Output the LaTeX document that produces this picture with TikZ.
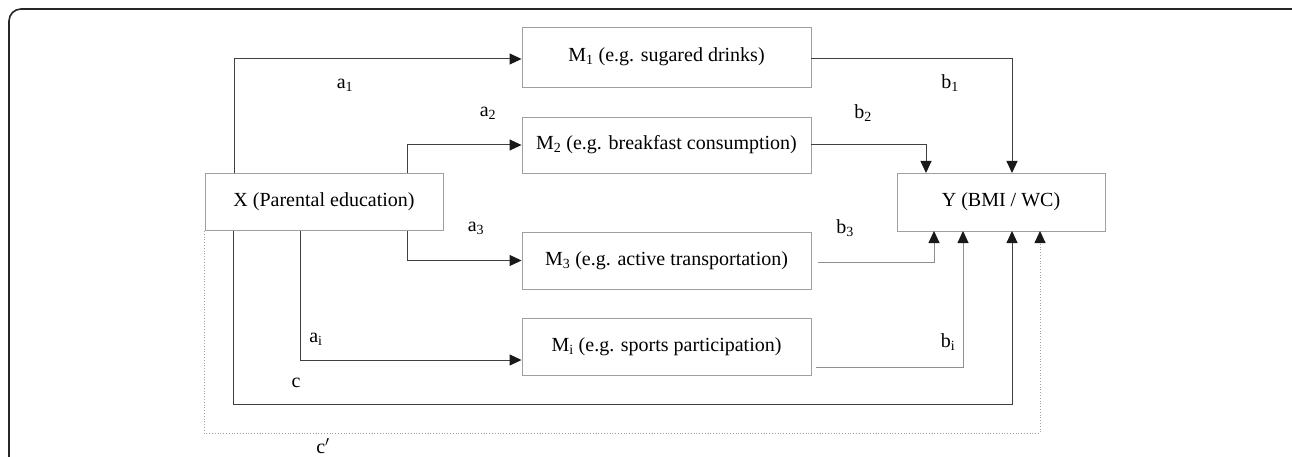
\documentclass[tikz,border=0pt]{standalone}
\usepackage{fontspec}
\setmainfont{Liberation Serif}
\usetikzlibrary{arrows.meta}
\definecolor{boxgray}{HTML}{A0A0A0}
\definecolor{linedark}{HTML}{404040}
\definecolor{linelight}{HTML}{909090}
\tikzset{
  var/.style={draw=boxgray, line width=0.9pt, fill=white, minimum height=57pt, inner sep=0pt, font=\fontsize{20}{24}\selectfont},
  tip/.style={-{Triangle[length=12pt,width=11pt,color=black!90]}},
  conn/.style={draw=linedark, line width=1pt, tip},
  connl/.style={draw=linelight, line width=1pt, tip},
  connd/.style={draw=boxgray, line width=0.8pt, dotted, tip},
  lab/.style={font=\fontsize{20}{24}\selectfont, inner sep=0pt},
}
\begin{document}
\begin{tikzpicture}[x=1pt,y=-1pt]
\useasboundingbox (0,0) rectangle (1292,457);
\begin{scope}
\clip (0,0) rectangle (1292,457);
\draw[line width=1.6pt, draw=black!85, rounded corners=12pt] (9,9) rectangle (1305,480);
\end{scope}
% nodes
\node[var, minimum width=238pt] (X) at (324,202) {X (Parental education)};
\node[var, minimum width=289pt, minimum height=60pt] (M1) at (666.5,57) {M\textsubscript{1} (e.g. sugared drinks)};
\node[var, minimum width=289pt, minimum height=56pt] (M2) at (666.5,145) {M\textsubscript{2} (e.g. breakfast consumption)};
\node[var, minimum width=289pt, minimum height=57pt] (M3) at (666.5,260.5) {M\textsubscript{3} (e.g. active transportation)};
\node[var, minimum width=289pt, minimum height=57pt] (Mi) at (666.5,346.5) {M\textsubscript{i} (e.g. sports participation)};
\node[var, minimum width=208pt, minimum height=58pt] (Y) at (1001,202) {Y (BMI / WC)};
% coordinates
\coordinate (xa1) at (234,173);
\coordinate (xa2) at (407,173);
\coordinate (xa3) at (407,231);
\coordinate (xai) at (300,231);
\coordinate (xc) at (233,231);
\coordinate (xcp) at (204,231);
\coordinate (ya1) at (1012,173);
\coordinate (ya2) at (926,173);
\coordinate (yb3) at (934,231);
\coordinate (ybi) at (963,231);
\coordinate (yc) at (1012,231);
\coordinate (ycp) at (1040,231);
\coordinate (m3r) at (818,262);
\coordinate (mir) at (816,367);
% a paths
\draw[conn] (xa1) |- (M1.west |- 0,59);
\draw[conn] (xa2) |- (M2.west);
\draw[conn] (xa3) |- (M3.west);
\draw[conn] (xai) |- (Mi.west |- 0,360);
% b paths
\draw[conn] (M1.east |- 0,59) -| (ya1);
\draw[conn] (M2.east) -| (ya2);
\draw[connl] (m3r) -| (yb3);
\draw[connl] (mir) -| (ybi);
% c and c'
\draw[conn] (xc) |- (1012,404) -- (yc);
\draw[connd] (xcp) |- (1040,433) -- (ycp);
% labels
\node[lab] (la1) at (345,85) {a\textsubscript{1}};
\node[lab] (la2) at (488,113) {a\textsubscript{2}};
\node[lab] (la3) at (476,228) {a\textsubscript{3}};
\node[lab] (lai) at (316,339) {a\textsubscript{i}};
\node[lab] (lc) at (296,383) {c};
\node[lab] (lcp) at (323,446) {c$'$};
\node[lab] (lb1) at (950,83) {b\textsubscript{1}};
\node[lab] (lb2) at (863,113) {b\textsubscript{2}};
\node[lab] (lb3) at (845,228) {b\textsubscript{3}};
\node[lab] (lbi) at (948,342) {b\textsubscript{i}};
\end{tikzpicture}
\end{document}
